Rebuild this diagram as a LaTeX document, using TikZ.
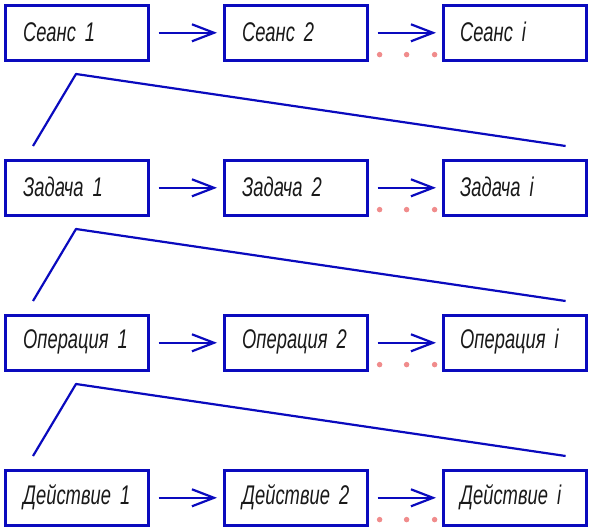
\documentclass[tikz,border=0pt]{standalone}
\usepackage{fontspec}
\setmainfont[FakeStretch=0.68]{Liberation Sans}
\usetikzlibrary{arrows.meta,calc}
\definecolor{lineblue}{RGB}{10,10,190}
\definecolor{dotred}{RGB}{240,140,140}
\definecolor{txt}{RGB}{25,25,25}
\newcommand{\gap}{\hspace{9pt}}
\begin{document}
\begin{tikzpicture}[x=1pt,y=-1pt,
  box/.style={draw=lineblue,line width=2.6pt,minimum width=143pt,minimum height=55pt,
    inner sep=0pt,anchor=north west},
  lbl/.style={anchor=west,inner sep=0pt,font=\fontsize{27}{30}\selectfont\itshape,text=txt},
  flow/.style={draw=lineblue,line width=2.2pt,shorten <=9pt,shorten >=6pt,
    -{Straight Barb[length=22pt,width=17pt,line width=2.2pt]}},
  link/.style={draw=lineblue,line width=2.2pt,line join=round},
  dotm/.style={fill=dotred,circle,inner sep=0pt,minimum size=5.5pt}]
\useasboundingbox (0,0) rectangle (589,529);
\foreach \r/\y/\w in {1/4/Сеанс,2/159/Задача,3/314/Операция,4/469/Действие}{
  \node[box] (a\r) at (4,\y) {};
  \node[box] (b\r) at (223,\y) {};
  \node[box] (c\r) at (442,\y) {};
  \node[lbl] (ta\r) at ($(a\r.west)+(19,-1)$) {\w\gap 1};
  \node[lbl] (tb\r) at ($(b\r.west)+(19,-1)$) {\w\gap 2};
  \node[lbl] (tc\r) at ($(c\r.west)+(18,-1)$) {\w\gap i};
  \draw[flow] (a\r.east) -- (b\r.west);
  \draw[flow] (b\r.east) -- (c\r.west);
  \node[dotm] (d1\r) at ($(b\r.south east)+(11,-7)$) {};
  \node[dotm] (d2\r) at ($(b\r.south east)+(38,-7)$) {};
  \node[dotm] (d3\r) at ($(b\r.south east)+(66,-7)$) {};
}
\foreach \r in {2,3,4}{
  \coordinate (p\r) at ($(a\r.north west)+(29,-13)$);
  \coordinate (q\r) at ($(a\r.north west)+(72,-85)$);
  \coordinate (s\r) at ($(c\r.north east)+(-22,-13)$);
  \draw[link] (p\r) -- (q\r) -- (s\r);
}
\end{tikzpicture}
\end{document}
